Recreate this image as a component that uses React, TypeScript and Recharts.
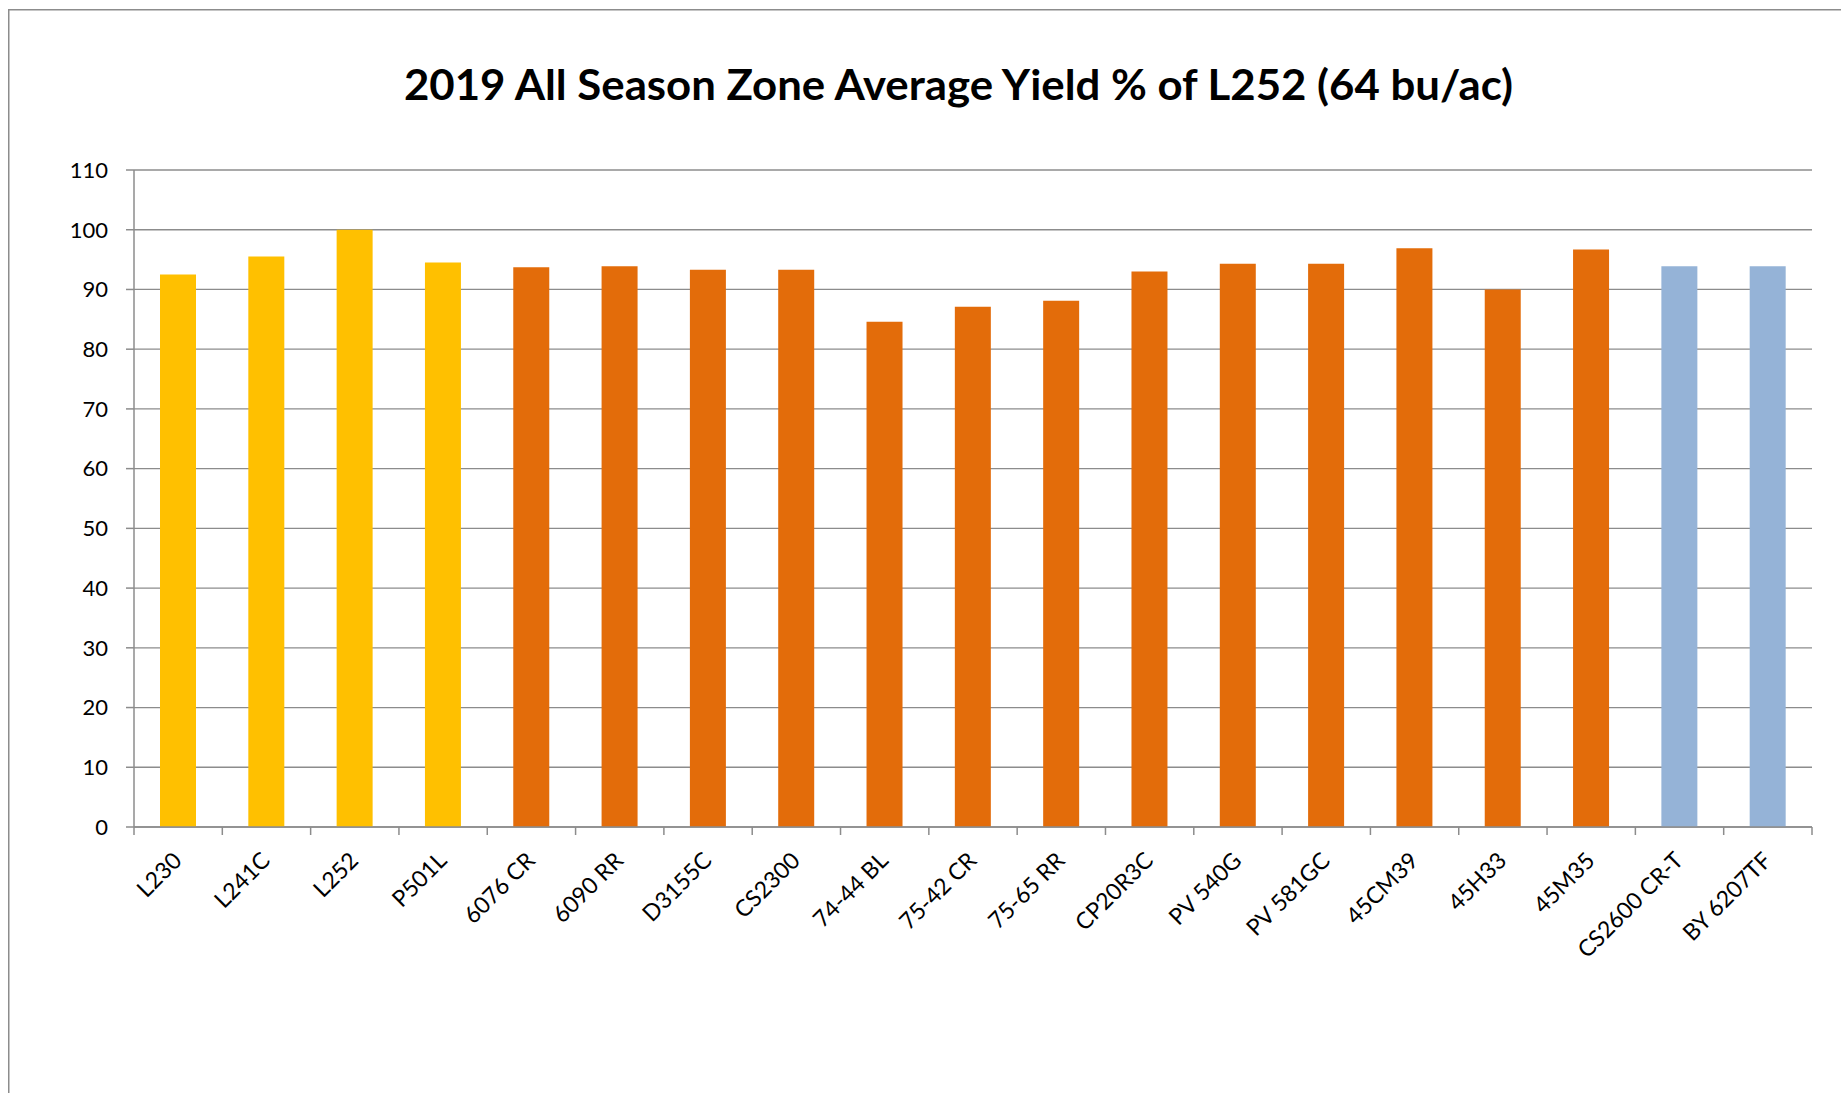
import React from 'react';
import { BarChart, Bar, XAxis, YAxis, CartesianGrid, Cell } from 'recharts';

const categories = [
  'L230', 'L241C', 'L252', 'P501L', '6076 CR', '6090 RR', 'D3155C', 'CS2300',
  '74-44 BL', '75-42 CR', '75-65 RR', 'CP20R3C', 'PV 540G', 'PV 581GC',
  '45CM39', '45H33', '45M35', 'CS2600 CR-T', 'BY 6207TF',
];
const yieldPct = [
  92.5, 95.5, 100, 94.5, 93.7, 93.9, 93.3, 93.3,
  84.6, 87.1, 88.1, 93.0, 94.3, 94.3,
  96.9, 90.0, 96.7, 93.9, 93.9,
];
const groups = [
  'brand', 'brand', 'brand', 'brand', 'other', 'other', 'other', 'other',
  'other', 'other', 'other', 'other', 'other', 'other',
  'other', 'other', 'other', 'check', 'check',
];
const yTicks = [0, 10, 20, 30, 40, 50, 60, 70, 80, 90, 100, 110];
const title = '2019 All Season Zone Average Yield % of L252 (64 bu/ac)';

const groupColors: Record<string, string> = {
  brand: '#FFC000',
  other: '#E36C0A',
  check: '#95B3D7',
};

const data = categories.map((name, i) => ({ name, value: yieldPct[i], group: groups[i] }));

const PAGE_W = 1841;
const PAGE_H = 1093;
const OFF = 8;
const W = 1825;
const H = 1077;
const Y_AXIS_W = 126;
const M_RIGHT = 21;
const PLOT_W = W - Y_AXIS_W - M_RIGHT;
const GRID = '#8C8C8C';
const FONT = 'Lato, "Open Sans", sans-serif';

const XTick = (props: any) => {
  const { x, y, payload, index } = props;
  const bw = PLOT_W / categories.length;
  const ax = x + 5;
  const ay = y + 35;
  return (
    <g>
      <line x1={x - bw / 2} y1={y} x2={x - bw / 2} y2={y + 8} stroke={GRID} strokeWidth={1.5} />
      {index === categories.length - 1 && (
        <line x1={x + bw / 2} y1={y} x2={x + bw / 2} y2={y + 8} stroke={GRID} strokeWidth={1.5} />
      )}
      <text
        x={ax}
        y={ay}
        textAnchor="end"
        transform={`rotate(-45, ${ax}, ${ay})`}
        fontFamily={FONT}
        fontSize={23}
        fill="#000"
      >
        {payload.value}
      </text>
    </g>
  );
};

export default function App() {
  return (
    <div
      style={{
        position: 'relative',
        width: PAGE_W,
        height: PAGE_H,
        overflow: 'hidden',
        background: '#fff',
      }}
    >
      <style>{'html,body{margin:0;padding:0;overflow:hidden;}'}</style>
      <div style={{ position: 'absolute', left: OFF, top: OFF, width: W, height: H }}>
        <BarChart
          width={W}
          height={H}
          data={data}
          margin={{ top: 162, right: M_RIGHT, bottom: 158, left: 0 }}
        >
          <CartesianGrid vertical={false} stroke={GRID} strokeWidth={1.3} />
          <XAxis
            dataKey="name"
            interval={0}
            tickLine={false}
            tickSize={0}
            tickMargin={0}
            height={100}
            axisLine={{ stroke: GRID, strokeWidth: 1.5 }}
            tick={<XTick />}
          />
          <YAxis
            type="number"
            domain={[0, 110]}
            ticks={yTicks}
            interval={0}
            width={Y_AXIS_W}
            tickSize={8}
            tickMargin={18}
            axisLine={{ stroke: GRID, strokeWidth: 1.5 }}
            tickLine={{ stroke: GRID, strokeWidth: 1.5 }}
            tick={{ fontFamily: FONT, fontSize: 22, fill: '#000' }}
          />
          <Bar dataKey="value" barSize={36} isAnimationActive={false}>
            {data.map((d, i) => (
              <Cell key={i} fill={groupColors[d.group]} />
            ))}
          </Bar>
        </BarChart>
      </div>
      <svg
        width={PAGE_W}
        height={PAGE_H}
        style={{ position: 'absolute', left: 0, top: 0, pointerEvents: 'none', display: 'block' }}
      >
        <path
          d={`M8.75 ${PAGE_H + 10} L8.75 9.75 L${PAGE_W + 10} 9.75`}
          fill="none"
          stroke={GRID}
          strokeWidth={1.5}
        />
        <text
          x={958.5}
          y={100}
          textAnchor="middle"
          fontFamily={FONT}
          fontWeight="bold"
          fontSize={42}
          textLength={1109}
          lengthAdjust="spacingAndGlyphs"
          fill="#000"
        >
          {title}
        </text>
      </svg>
    </div>
  );
}
